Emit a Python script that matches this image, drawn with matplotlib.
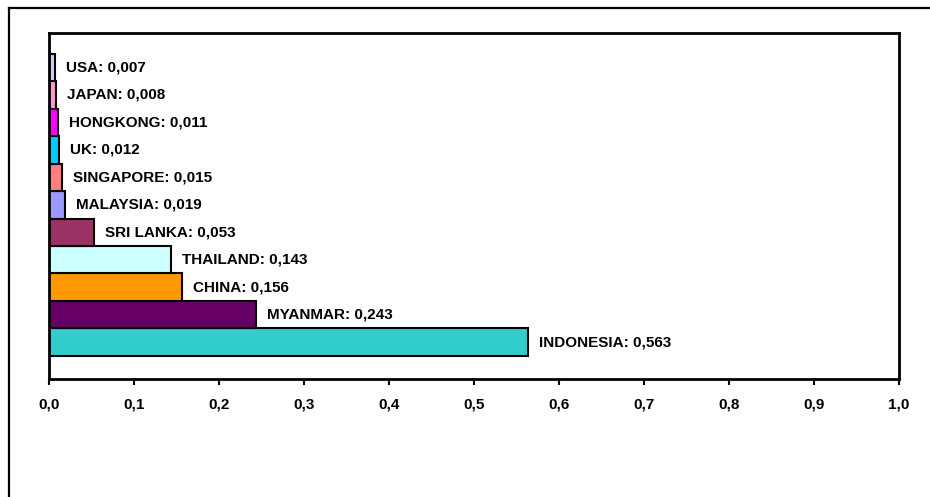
import matplotlib.pyplot as plt
from matplotlib.lines import Line2D

countries = ['INDONESIA', 'MYANMAR', 'CHINA', 'THAILAND', 'SRI LANKA', 'MALAYSIA',
             'SINGAPORE', 'UK', 'HONGKONG', 'JAPAN', 'USA']
values = [0.563, 0.243, 0.156, 0.143, 0.053, 0.019, 0.015, 0.012, 0.011, 0.008, 0.007]
colors = ['#33CCCC', '#660066', '#FF9900', '#CCFFFF', '#993366', '#9999FF',
          '#FF8080', '#00CCFF', '#FF00FF', '#FF99CC', '#CCCCFF']
xticks = [0.0, 0.1, 0.2, 0.3, 0.4, 0.5, 0.6, 0.7, 0.8, 0.9, 1.0]

plt.rcParams['font.family'] = ['Liberation Sans', 'DejaVu Sans']
plt.rcParams['font.weight'] = 'bold'
plt.rcParams['font.size'] = 11

fig = plt.figure(figsize=(9.3, 4.97), dpi=100)
ax = fig.add_axes([49 / 930, 1 - 379 / 497, 850 / 930, 346 / 497])

# outer chart frame (left and top only)
fig.add_artist(Line2D([9 / 930, 9 / 930], [0, 1 - 8 / 497], color='black', lw=1.6,
                      transform=fig.transFigure))
fig.add_artist(Line2D([9 / 930, 1], [1 - 8 / 497, 1 - 8 / 497], color='black', lw=1.6,
                      transform=fig.transFigure))

ypos = list(range(len(countries)))
ax.barh(ypos, values, height=1.0, color=colors, edgecolor='black', linewidth=1.5)

for y, name, v in zip(ypos, countries, values):
    ax.annotate(f'{name}: {v:.3f}'.replace('.', ','), (v, y), xytext=(8, 0),
                textcoords='offset points', va='center', ha='left',
                fontsize=11, fontweight='bold')

ax.set_xlim(0, 1.0)
ax.set_ylim(-1.34, 11.25)
ax.set_xticks(xticks)
ax.set_xticklabels([f'{t:.1f}'.replace('.', ',') for t in xticks], fontweight='bold')
ax.set_yticks([])
ax.tick_params(axis='x', direction='out', length=4, width=1.5, pad=9)
for s in ax.spines.values():
    s.set_linewidth(2)

fig.savefig('out.png', dpi=100)
